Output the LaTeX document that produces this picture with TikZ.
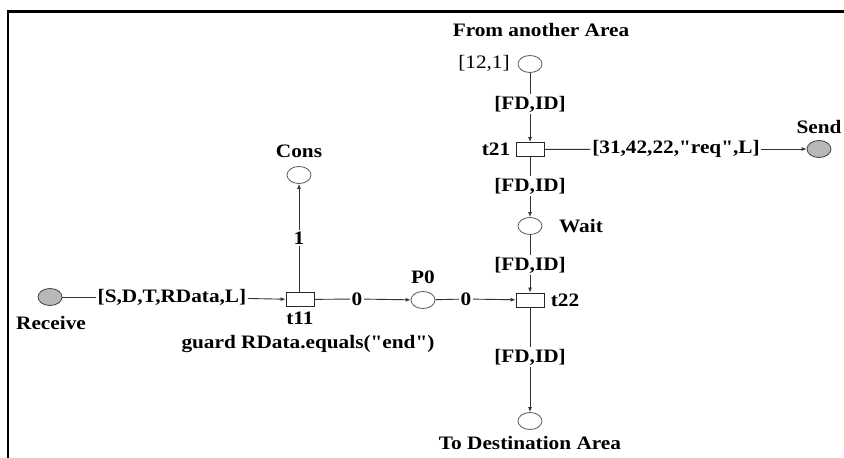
\documentclass[tikz,border=0pt]{standalone}
\usepackage{fontspec}
\setmainfont{Liberation Serif}
\newfontfamily\lf{Liberation Serif}[FakeStretch=1.12]
\usetikzlibrary{shapes.geometric,arrows.meta}
\tikzset{
  place/.style={ellipse, draw=black!65, line width=0.8pt, minimum width=24pt, minimum height=17pt, inner sep=0pt},
  fplace/.style={place, fill=black!28, draw=black!75},
  trans/.style={rectangle, draw=black!85, line width=0.8pt, minimum width=28pt, minimum height=14pt, inner sep=0pt},
  lbl/.style={font=\lf\bfseries\fontsize{19}{19}\selectfont, inner sep=1.5pt, text=black},
  rlbl/.style={font=\lf\fontsize{19}{19}\selectfont, inner sep=1.5pt, text=black},
  arc/.style={draw=black!80, line width=0.9pt},
  arw/.style={arc, -{Latex[length=5pt,width=4pt]}}
}
\begin{document}
\begin{tikzpicture}[x=1pt,y=-1pt]
\useasboundingbox (0,0) rectangle (844,458);
\draw[line width=2.5pt] (844,11.5) -- (8,11.5) -- (8,458);

% places
\node[fplace] (recv) at (50,297) {};
\node[lbl] (recvL) at (51,323) {Receive};
\node[place] (cons) at (299,175) {};
\node[lbl] (consL) at (299,151) {Cons};
\node[place] (p0) at (423,300) {};
\node[lbl] (p0L) at (423,277) {P0};
\node[place] (p12) at (530,64) {};
\node[rlbl] (p12L) at (484,63) {[12,1]};
\node[lbl] (fromL) at (541,30) {From another Area};
\node[fplace] (send) at (819,149) {};
\node[lbl] (sendL) at (819,127) {Send};
\node[place] (wait) at (530,226) {};
\node[lbl] (waitL) at (581,226) {Wait};
\node[place] (dest) at (530,421) {};
\node[lbl] (destL) at (530,443) {To Destination Area};

% transitions
\node[trans] (t11) at (300,299.5) {};
\node[lbl] (t11L) at (300,318) {t11};
\node[lbl] (guard) at (308,344) {guard RData.equals("end")};
\node[trans] (t21) at (530,149.5) {};
\node[lbl] (t21L) at (496,149) {t21};
\node[trans] (t22) at (530,300) {};
\node[lbl] (t22L) at (565,300) {t22};

% arc labels
\node[lbl] (a1) at (172,297) {[S,D,T,RData,L]};
\node[lbl] (a2) at (357,299) {0};
\node[lbl] (a3) at (466,299) {0};
\node[lbl] (a4) at (299,238) {1};
\node[lbl] (a5) at (530,104) {[FD,ID]};
\node[lbl] (a6) at (676,149) {[31,42,22,"req",L]};
\node[lbl] (a7) at (530,186) {[FD,ID]};
\node[lbl] (a8) at (530,265) {[FD,ID]};
\node[lbl] (a9) at (530,357) {[FD,ID]};

% arcs
\draw[arc] (recv) -- (a1);
\draw[arw] (a1) -- (t11);
\draw[arc] (t11) -- (a2);
\draw[arw] (a2) -- (p0);
\draw[arc] (p0) -- (a3);
\draw[arw] (a3) -- (t22);
\draw[arc] (t11.north -| a4) -- (a4);
\draw[arw] (a4) -- (cons);
\draw[arc] (p12) -- (a5);
\draw[arw] (a5) -- (t21);
\draw[arc] (t21) -- (a6);
\draw[arw] (a6) -- (send);
\draw[arc] (t21) -- (a7);
\draw[arw] (a7) -- (wait);
\draw[arc] (wait) -- (a8);
\draw[arw] (a8) -- (t22);
\draw[arc] (t22) -- (a9);
\draw[arw] (a9) -- (dest);
\end{tikzpicture}
\end{document}
